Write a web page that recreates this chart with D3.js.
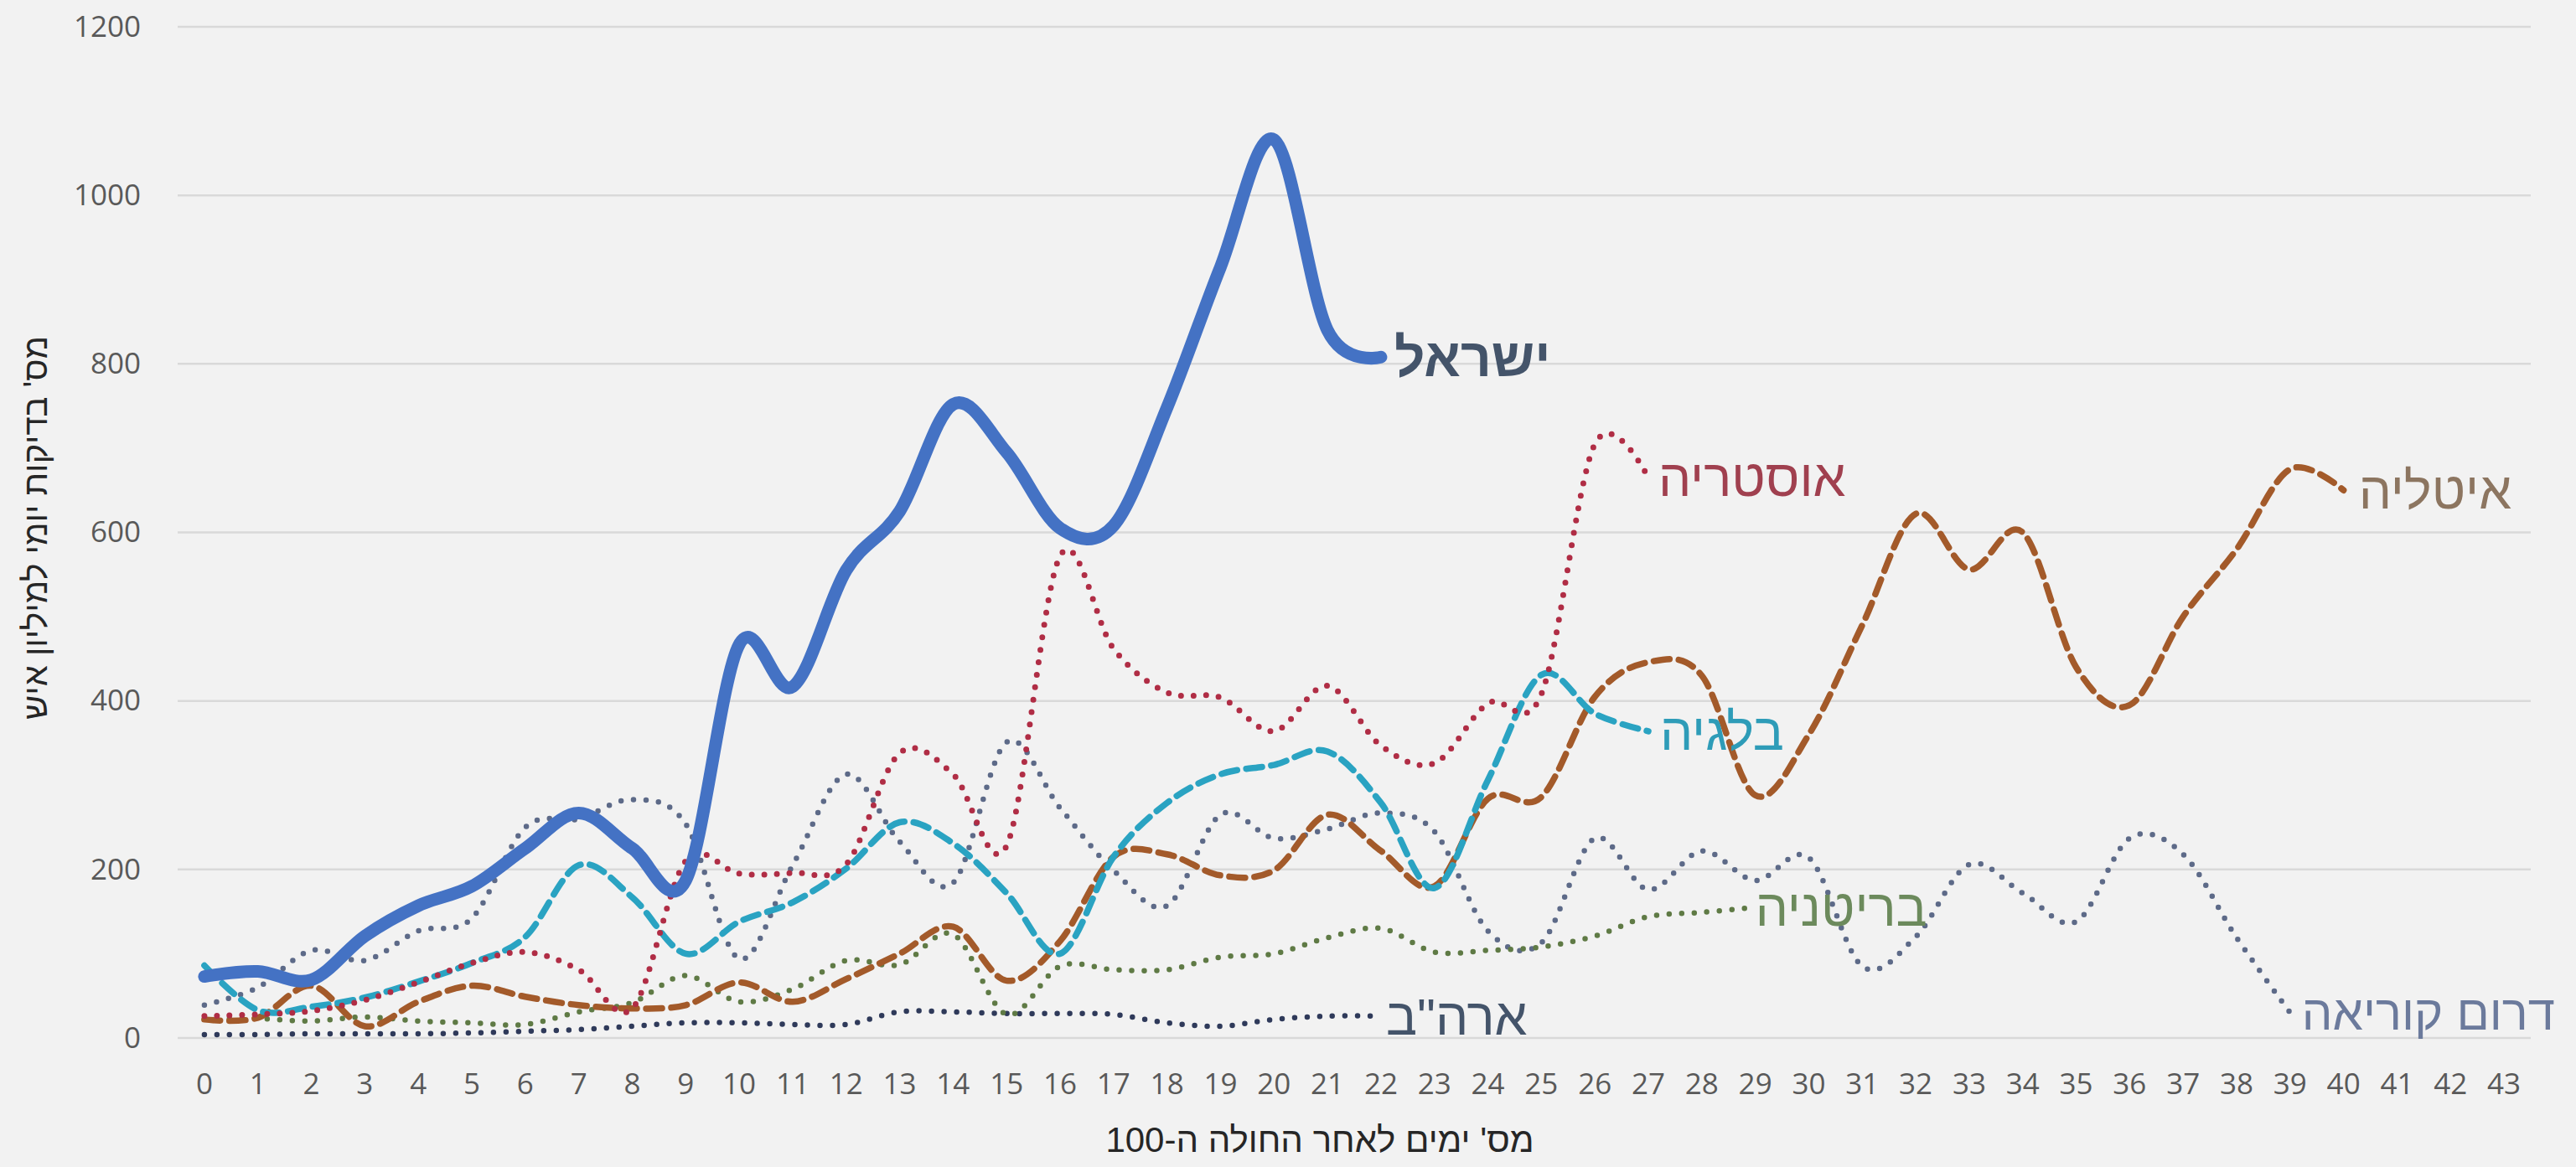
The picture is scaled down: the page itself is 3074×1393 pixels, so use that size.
<!DOCTYPE html>
<html>
<head>
<meta charset="utf-8">
<script src="https://cdn.jsdelivr.net/npm/d3@7"></script>
<style>
  html, body { margin: 0; padding: 0; background: #f2f2f2; }
  svg { display: block; }
  .tick text { font-family: "Open Sans", "Liberation Sans", sans-serif; fill: #595959; }
  .heb { font-family: "Liberation Sans", "DejaVu Sans", sans-serif; }
</style>
</head>
<body>
<div id="chart"></div>
<script>
// days after the 100th patient
const days = d3.range(0, 44);
const yTicks = [0, 200, 400, 600, 800, 1000, 1200];

// daily tests per million, by country
const israel  = [73, 79, 69, 121, 157, 180, 225, 267, 225, 187, 467, 417, 555, 625, 752, 695, 605, 608, 748, 915, 1066, 840, 808];
const austria = [26, 28, 32, 45, 66, 89, 102, 81, 35, 210, 195, 196, 206, 338, 313, 228, 572, 462, 410, 404, 364, 418, 347, 326, 397, 408, 705, 665];
const italy   = [22, 24, 62, 14, 43, 62, 49, 39, 35, 39, 66, 43, 70, 100, 132, 68, 115, 215, 218, 193, 199, 265, 222, 180, 284, 286, 405, 446, 430, 288, 360, 490, 622, 556, 600, 440, 395, 500, 580, 675, 650];
const belgium = [86, 33, 37, 48, 67, 89, 120, 205, 167, 100, 138, 161, 201, 256, 231, 172, 100, 215, 279, 313, 324, 340, 279, 178, 306, 431, 385, 364];
const uk      = [22, 23, 20, 25, 20, 18, 16, 31, 42, 74, 43, 58, 92, 87, 123, 28, 85, 81, 81, 96, 100, 119, 130, 102, 104, 108, 121, 144, 149, 155];
const usa     = [4, 4, 5, 5, 5, 6, 8, 10, 14, 18, 18, 16, 16, 31, 31, 29, 29, 28, 18, 14, 22, 26, 26];
const korea   = [39, 60, 104, 92, 127, 142, 250, 260, 283, 254, 94, 205, 313, 233, 184, 351, 273, 199, 157, 265, 237, 248, 267, 245, 127, 113, 237, 176, 222, 187, 214, 85, 120, 206, 172, 138, 237, 218, 119, 30];

const seriesNames = ['דרום קוריאה', 'ארה"ב', 'בריטניה', 'איטליה', 'בלגיה', 'אוסטריה', 'ישראל'];
const seriesData  = [korea, usa, uk, italy, belgium, austria, israel];

const W = 3074, H = 1393;
const plot = { left: 212, right: 3020, top: 32, bottom: 1239 };

const svg = d3.select('#chart').append('svg').attr('width', W).attr('height', H);
svg.append('rect').attr('width', W).attr('height', H).attr('fill', '#f2f2f2');

const x = d3.scaleBand().domain(days).range([plot.left, plot.right]);
const y = d3.scaleLinear().domain([0, 1200]).range([plot.bottom, plot.top]);
const cx = d => x(d) + x.bandwidth() / 2;

// gridlines
svg.append('g').selectAll('line').data(yTicks).join('line')
  .attr('x1', plot.left).attr('x2', plot.right)
  .attr('y1', d => y(d)).attr('y2', d => y(d))
  .attr('stroke', '#d9d9d9').attr('stroke-width', 2.5);

// axes (labels only)
const yAxis = svg.append('g').attr('transform', `translate(${plot.left},0)`)
  .call(d3.axisLeft(y).tickValues(yTicks).tickFormat(d3.format('d')).tickSize(0).tickPadding(44));
const xAxis = svg.append('g').attr('transform', `translate(0,${plot.bottom})`)
  .call(d3.axisBottom(x).tickSize(0).tickPadding(42));
[yAxis, xAxis].forEach(g => {
  g.select('.domain').remove();
  g.selectAll('text').attr('font-size', 35);
});

// series styles
const styles = {
  'ישראל':       { color: '#4472c4', width: 15, dash: null, label: '#44546a', weight: 'bold', size: 64, dx: 16 },
  'אוסטריה':     { color: '#b02d45', width: 7, dash: '0 15', label: '#a0404f', size: 62, dx: 12 },
  'איטליה':      { color: '#a35a2a', width: 7.5, dash: '19 11', label: '#8c7560', size: 62, dx: 18 },
  'בלגיה':       { color: '#2aa3c2', width: 7.5, dash: '19 11', label: '#2e9cb8', size: 62, dx: 14 },
  'בריטניה':     { color: '#5f7a45', width: 6.5, dash: '0 15', label: '#6c8a5c', size: 62, dx: 0 },
  'ארה"ב':       { color: '#2f3a5a', width: 6.5, dash: '0 15', label: '#44546a', size: 62, dx: 6 },
  'דרום קוריאה': { color: '#5d6a88', width: 6.5, dash: '0 15', label: '#6b7a9c', size: 58, dx: 14 }
};

const line = d3.line()
  .x((d, i) => cx(i))
  .y(d => y(d))
  .curve(d3.curveCardinal.tension(0));

seriesNames.forEach((name, k) => {
  const vals = seriesData[k];
  const s = styles[name];
  svg.append('path')
    .datum(vals)
    .attr('d', line)
    .attr('fill', 'none')
    .attr('stroke', s.color)
    .attr('stroke-width', s.width)
    .attr('stroke-linecap', 'round')
    .attr('stroke-linejoin', 'round')
    .attr('stroke-dasharray', s.dash);

  // series name at the end of the line
  const last = vals.length - 1;
  svg.append('text')
    .attr('class', 'heb')
    .attr('direction', 'rtl')
    .attr('text-anchor', 'end')
    .attr('x', cx(last) + s.dx)
    .attr('y', y(vals[last]))
    .attr('dy', '0.35em')
    .attr('font-size', s.size)
    .attr('font-weight', s.weight || 'normal')
    .attr('fill', s.label)
    .text(name);
});

// axis titles
svg.append('text')
  .attr('class', 'heb')
  .attr('direction', 'rtl')
  .attr('text-anchor', 'middle')
  .attr('transform', 'translate(42,630) rotate(-90)')
  .attr('dy', '0.35em')
  .attr('font-size', 40)
  .attr('fill', '#262626')
  .text("מס' בדיקות יומי למיליון איש");

svg.append('text')
  .attr('class', 'heb')
  .attr('direction', 'rtl')
  .attr('text-anchor', 'middle')
  .attr('x', 1575)
  .attr('y', 1360)
  .attr('dy', '0.35em')
  .attr('font-size', 42)
  .attr('fill', '#262626')
  .text("מס' ימים לאחר החולה ה-100");
</script>
</body>
</html>
